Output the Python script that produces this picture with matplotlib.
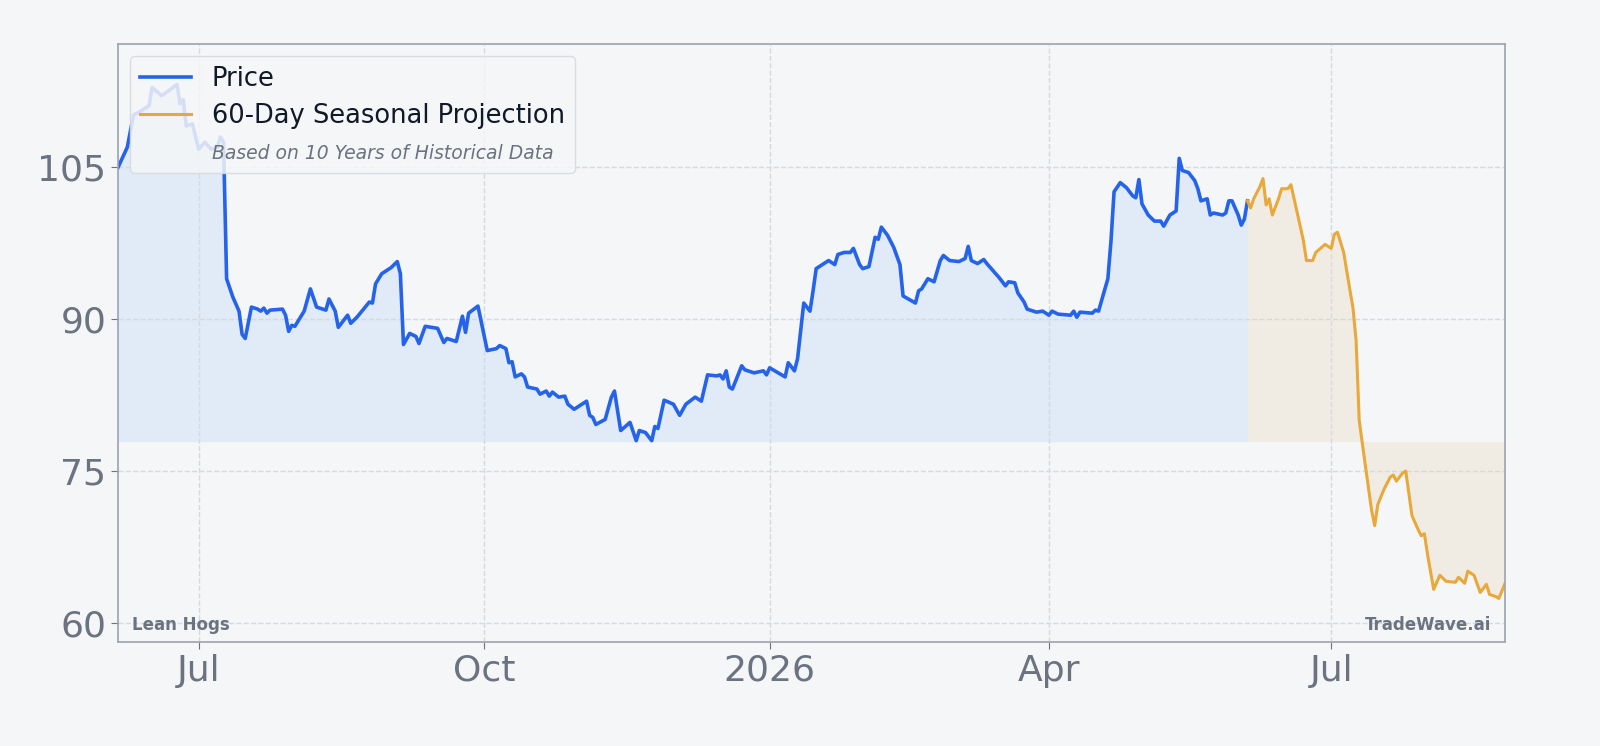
import matplotlib.pyplot as plt
from matplotlib.lines import Line2D
import pandas as pd

start = pd.Timestamp('2025-06-05')

# Historical price: day offset from start, value
price_days = [0, 3, 5, 7, 10, 11, 14, 16, 19, 20, 21, 22, 24, 26, 28, 30, 32, 33, 34, 35, 37, 39, 40, 41, 43, 45, 46, 47, 48, 49,
              53, 54, 55, 56, 57, 60, 62, 64, 67, 68, 70, 71, 74, 75, 77, 81, 82, 83, 85, 88, 90, 91, 92, 94, 96, 97, 99, 103, 105, 106,
              109, 111, 112, 113, 116, 119, 122, 123, 125, 126, 127, 128, 130, 131, 132, 135, 136, 138, 139, 140, 142, 144, 145, 147, 151, 152, 153, 154, 157, 159,
              160, 162, 165, 167, 168, 170, 172, 173, 174, 176, 179, 181, 183, 186, 188, 190, 193, 194, 195, 196, 197, 198, 201, 202, 205, 208, 209, 210, 215, 216,
              218, 219, 221, 223, 224, 225, 229, 231, 232, 234, 236, 237, 239, 240, 242, 244, 245, 246, 248, 250, 252, 253, 257, 258, 259, 261, 263, 265, 266, 268,
              271, 273, 274, 275, 277, 279, 280, 282, 284, 286, 287, 289, 290, 292, 293, 296, 298, 300, 301, 303, 307, 308, 309, 310, 314, 315, 316, 319, 320, 321,
              323, 325, 327, 328, 329, 330, 332, 334, 336, 337, 339, 341, 342, 343, 345, 347, 348, 349, 351, 352, 353, 356, 357, 358, 359, 361, 362, 363, 364]
price_vals = [105.0, 107.0, 110.2, 110.5, 111.1, 112.9, 112.1, 112.5, 113.2, 111.3, 111.7, 109.1, 109.3, 106.8, 107.5, 106.8, 107.0, 108.0, 107.5, 94.0,
              92.2, 90.8, 88.5, 88.1, 91.2, 91.0, 90.8, 91.1, 90.6, 90.9,
              91.0, 90.4, 88.8, 89.4, 89.3, 90.8, 93.0, 91.2, 90.9, 92.0, 90.8, 89.2, 90.4, 89.6, 90.2, 91.7, 91.6, 93.5, 94.5, 95.1,
              95.7, 94.5, 87.5, 88.6, 88.3, 87.6, 89.3, 89.1, 87.7, 88.1,
              87.8, 90.3, 88.7, 90.6, 91.3, 86.9, 87.1, 87.4, 87.1, 85.7, 85.8, 84.3, 84.6, 84.3, 83.3, 83.1, 82.6, 82.9, 82.4, 82.8,
              82.3, 82.4, 81.6, 81.1, 81.9, 80.5, 80.3, 79.6, 80.1, 82.3,
              82.9, 79.0, 79.8, 78.0, 79.0, 78.8, 78.0, 79.4, 79.2, 82.0, 81.6, 80.5, 81.6, 82.3, 81.9, 84.5, 84.4, 84.5, 84.1, 84.9,
              83.3, 83.1, 85.4, 85.0, 84.7, 84.9, 84.5, 85.2, 84.3, 85.7,
              84.9, 86.1, 91.6, 90.8, 92.8, 95.0, 95.8, 95.4, 96.4, 96.6, 96.6, 97.0, 95.4, 95.0, 95.2, 98.1, 97.9, 99.1, 98.3, 97.1,
              95.4, 92.3, 91.6, 92.8, 93.0, 94.0, 93.7, 95.8, 96.3, 95.8,
              95.7, 96.0, 97.2, 95.8, 95.5, 95.9, 95.5, 94.8, 94.1, 93.3, 93.7, 93.6, 92.6, 91.7, 91.0, 90.7, 90.8, 90.4, 90.8, 90.5,
              90.4, 90.8, 90.2, 90.7, 90.6, 90.9, 90.8, 94.0, 97.7, 102.6,
              103.5, 103.0, 102.2, 102.0, 103.8, 101.4, 100.3, 99.7, 99.7, 99.2, 100.3, 100.7, 105.9, 104.7, 104.5, 103.7, 102.9, 101.7, 101.9, 100.3,
              100.5, 100.3, 100.5, 101.7, 101.7, 100.3, 99.3, 99.9, 101.7]

# 60-day seasonal projection
proj_days = [364, 365, 366, 368, 369, 370, 371, 372, 374, 375, 377, 378, 382, 383, 385, 386, 389, 391, 392, 393, 395, 397, 398, 399, 400,
             402, 404, 405, 406, 408, 410, 411, 412, 414, 415, 417, 419, 420, 421, 422, 424, 426, 428, 431, 432, 434, 435, 437, 439, 441,
             442, 444, 445, 447]
proj_vals = [101.7, 101.0, 101.9, 103.1, 103.9, 101.3, 101.9, 100.3, 101.9, 102.9, 102.9, 103.3, 97.8, 95.8, 95.8, 96.6, 97.4, 97.0, 98.4, 98.6,
             96.6, 92.9, 91.1, 87.9, 80.0, 75.5, 71.1, 69.6, 71.7, 73.2, 74.4, 74.6, 74.0, 74.8, 75.0, 70.6, 69.2, 68.6, 68.8, 66.8,
             63.3, 64.7, 64.1, 64.0, 64.5, 63.9, 65.1, 64.7, 63.0, 63.8, 62.8, 62.6, 62.4, 63.9]

baseline = 77.9
tick_dates = ['2025-07-01', '2025-10-01', '2026-01-01', '2026-04-01', '2026-07-01']
tick_labels = ['Jul', 'Oct', '2026', 'Apr', 'Jul']
y_ticks = [60, 75, 90, 105]

px = start + pd.to_timedelta(price_days, unit='D')
pj = start + pd.to_timedelta(proj_days, unit='D')

bg = '#f4f6f8'
fig = plt.figure(figsize=(16, 7.46), dpi=100, facecolor=bg)
ax = fig.add_axes([0.07375, 0.1394, 0.8669, 0.8016], facecolor=bg)

# shaded areas against the baseline
ax.fill_between(px, baseline, price_vals, color='#dce9f7', alpha=0.8, lw=0)
ax.fill_between(pj, baseline, proj_vals, color='#f1ece3', lw=0)
ax.plot(px, price_vals, color='#2563eb', lw=2.6)
ax.plot(pj, proj_vals, color='#e8a83a', lw=2.2)

ax.set_xlim(start, start + pd.Timedelta(days=447))
ax.set_ylim(58.1, 117.2)
ax.set_xticks(pd.to_datetime(tick_dates))
ax.set_xticklabels(tick_labels)
ax.set_yticks(y_ticks)
ax.tick_params(labelsize=26, colors='#6b7280', length=5)
ax.grid(True, color='#d5d9e0', ls='--', lw=1)
for s in ax.spines.values():
    s.set_color('#9ca3af')
    s.set_linewidth(1.2)

handles = [Line2D([], [], color='#2563eb', lw=2.6),
           Line2D([], [], color='#e8a83a', lw=2.2),
           Line2D([], [], color='none')]
leg = ax.legend(handles, ['Price', '60-Day Seasonal Projection', 'Based on 10 Years of Historical Data'],
                loc='upper left', fontsize=18.5, facecolor=bg, edgecolor='#d5d9e0', framealpha=0.85,
                labelcolor='#111827', borderaxespad=0.45, labelspacing=0.45)
t = leg.get_texts()[2]
t.set_fontsize(13.5)
t.set_fontstyle('italic')
t.set_color('#6b7280')

ax.text(0.01, 0.02, 'Lean Hogs', transform=ax.transAxes, fontsize=12, fontweight='bold', color='#6b7280')
ax.text(0.99, 0.02, 'TradeWave.ai', transform=ax.transAxes, fontsize=12, fontweight='bold', color='#6b7280', ha='right')

fig.savefig('out.png', dpi=100, facecolor=bg)
